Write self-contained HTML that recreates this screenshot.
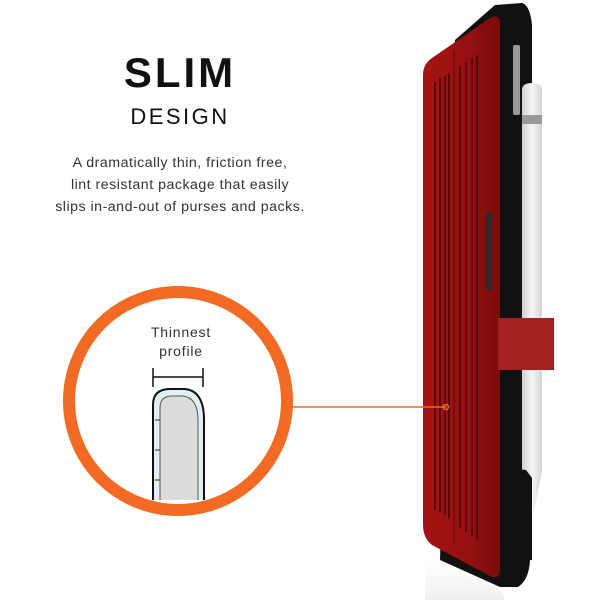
<!DOCTYPE html>
<html><head><style>
body{margin:0;width:600px;height:600px;background:#fff;overflow:hidden;font-family:"Liberation Sans",sans-serif}
</style></head><body>
<svg width="600" height="600" viewBox="0 0 600 600" xmlns="http://www.w3.org/2000/svg">
<defs>
<linearGradient id="red" x1="0" x2="1"><stop offset="0" stop-color="#a51414"/><stop offset="0.6" stop-color="#951010"/><stop offset="1" stop-color="#7a0b0b"/></linearGradient>
<linearGradient id="pen" x1="0" x2="1"><stop offset="0" stop-color="#cfcfcf"/><stop offset="0.5" stop-color="#f6f6f6"/><stop offset="1" stop-color="#d5d5d5"/></linearGradient>
<linearGradient id="shadow" x1="0" y1="0" x2="0" y2="1"><stop offset="0" stop-color="#eee" stop-opacity="0"/><stop offset="1" stop-color="#e6e6e6" stop-opacity="0.6"/></linearGradient>
</defs>
<text x="180" y="87" text-anchor="middle" font-size="42" font-weight="bold" letter-spacing="3" fill="#111">SLIM</text>
<text x="180" y="124" text-anchor="middle" font-size="22" letter-spacing="2.5" fill="#111">DESIGN</text>
<g font-size="14.2" fill="#333" text-anchor="middle" letter-spacing="0.5">
<text x="180" y="167">A dramatically thin, friction free,</text>
<text x="180" y="189">lint resistant package that easily</text>
<text x="180" y="211">slips in-and-out of purses and packs.</text>
</g>
<path d="M425 555 L500 590 L505 600 L425 600 Z" fill="url(#shadow)"/>
<path d="M455 40 L495 5 L522 3 Q530 5 532 25 L532 440 L530 560 Q529 580 518 587 L500 587 L440 560 Z" fill="#111"/>
<rect x="513" y="45" width="7" height="70" rx="2" fill="#9a9a9a"/>
<path d="M423 75 Q423 64 432 58 L490 18 Q500 13 500 25 L500 570 Q500 580 490 576 L432 545 Q423 538 423 525 Z" fill="url(#red)"/>
<g stroke="#3d0505" stroke-width="1.4">
<path d="M435 82 L435 510 M440 78 L440 512 M445 76 L445 515 M449 74 L449 518"/>
<path d="M460 66 L460 528 M466 62 L466 532 M472 58 L472 536 M477 55 L477 540"/>
</g>
<line x1="454" y1="50" x2="454" y2="545" stroke="#5a0707" stroke-width="1"/>
<rect x="486" y="212" width="6" height="78" fill="#2a2a2a"/>
<path d="M522 90 Q522 83 532 83 Q542 83 542 90 L542 470 L534 512 L530 512 L522 470 Z" fill="url(#pen)"/>
<rect x="522" y="115" width="20" height="9" fill="#9a9a9a"/>
<path d="M510 468 L526 470 L532 478 L532 560 L510 560 Z" fill="#111"/>
<rect x="498" y="318" width="56" height="52" fill="#a52121"/>
<line x1="292" y1="407" x2="446" y2="407" stroke="#f0692a" stroke-width="1.5"/>
<circle cx="446" cy="407" r="2.5" fill="none" stroke="#f0692a" stroke-width="1.5"/>
<circle cx="178" cy="401" r="109" fill="#fff" stroke="#f26a23" stroke-width="12"/>
<text x="181" y="337" text-anchor="middle" font-size="14" letter-spacing="0.8" fill="#333">Thinnest</text>
<text x="181" y="356" text-anchor="middle" font-size="14" letter-spacing="0.8" fill="#333">profile</text>
<path d="M153 368 L153 387 M153 377 L203 377 M203 368 L203 387" stroke="#111" stroke-width="1.5" fill="none"/>
<path d="M153 500 L153 405 Q153 389 170 389 L185 389 Q204 391 204 420 L204 500" fill="#e0f0f4" stroke="#111" stroke-width="2"/>
<path d="M160 500 L160 408 Q160 396 172 396 L183 396 Q198 398 198 420 L198 500" fill="#dcdcdc" stroke="#555" stroke-width="1"/>
<path d="M155 420 L160 420 M155 450 L160 450 M155 480 L160 480" stroke="#333" stroke-width="1"/>
</svg>
</body></html>
